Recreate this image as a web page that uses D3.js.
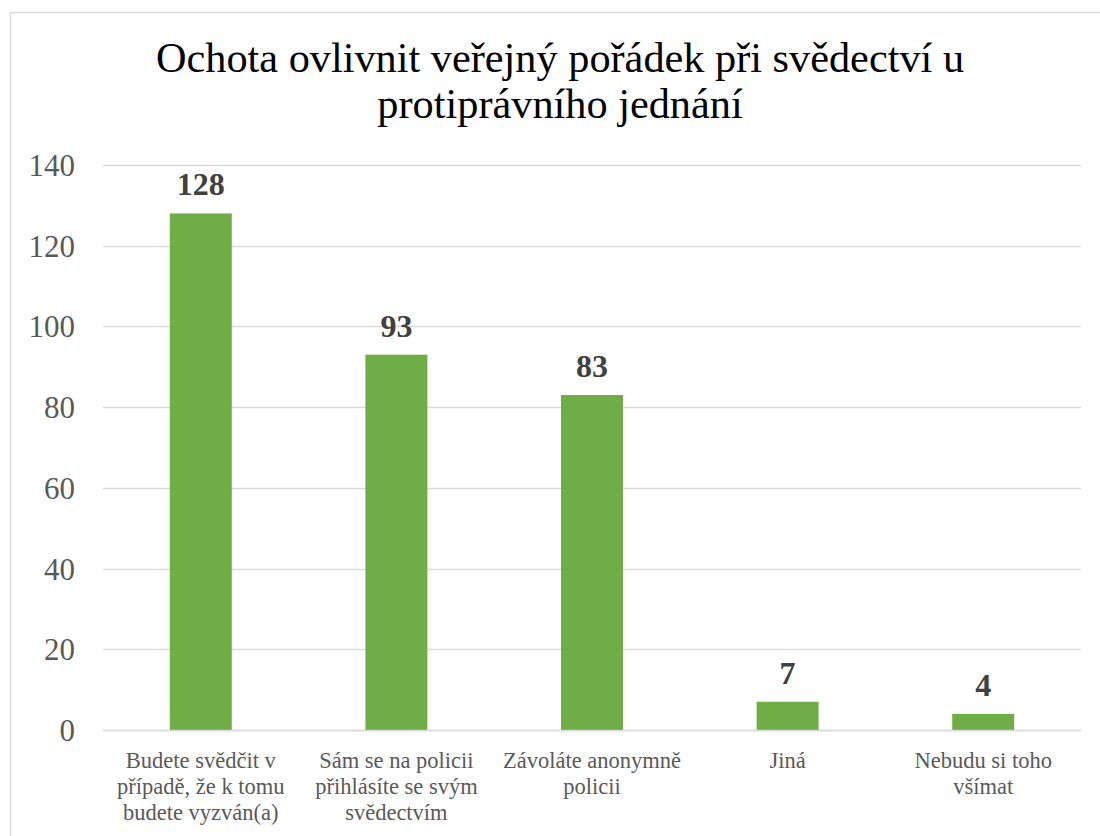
<!DOCTYPE html>
<html>
<head>
<meta charset="utf-8">
<script src="https://cdn.jsdelivr.net/npm/d3@7"></script>
<style>
  html, body { margin: 0; padding: 0; background: #ffffff; }
  svg { display: block; }
</style>
</head>
<body>
<svg id="chart" width="1100" height="836"></svg>
<script>
const titleLines = ["Ochota ovlivnit veřejný pořádek při svědectví u", "protiprávního jednání"];
const categories = [
  "Budete svědčit v\npřípadě, že k tomu\nbudete vyzván(a)",
  "Sám se na policii\npřihlásíte se svým\nsvědectvím",
  "Závoláte anonymně\npolicii",
  "Jiná",
  "Nebudu si toho\nvšímat"
];
const values = [128, 93, 83, 7, 4];
const yTicks = [0, 20, 40, 60, 80, 100, 120, 140];

const FONT = "Liberation Serif, serif";
const svg = d3.select("#chart");

// chart frame (extends past the window on right & bottom)
svg.append("rect")
  .attr("x", 10.5).attr("y", 12.5)
  .attr("width", 1200).attr("height", 1000)
  .attr("fill", "#ffffff").attr("stroke", "#d9d9d9").attr("stroke-width", 1.5);

const margin = { left: 103, right: 1081, top: 165, bottom: 730 };

const x = d3.scaleBand()
  .domain(d3.range(categories.length))
  .range([margin.left, margin.right])
  .paddingInner(0.683)
  .paddingOuter(0.3415);

const y = d3.scaleLinear().domain([0, 140]).range([margin.bottom, margin.top]);

// gridlines
svg.append("g").selectAll("line").data(yTicks).join("line")
  .attr("x1", margin.left).attr("x2", margin.right)
  .attr("y1", d => Math.round(y(d)) + 0.5).attr("y2", d => Math.round(y(d)) + 0.5)
  .attr("stroke", "#d9d9d9").attr("stroke-width", 1.5);

// y axis labels
const yAxis = d3.axisLeft(y).tickValues(yTicks).tickSize(0).tickPadding(0);
const yg = svg.append("g").attr("transform", "translate(75,0)").call(yAxis);
yg.select(".domain").remove();
yg.selectAll("text")
  .attr("font-family", FONT).attr("font-size", 31).attr("fill", "#595959")
  .attr("dy", "0.34em");

// bars
svg.append("g").selectAll("rect").data(values).join("rect")
  .attr("x", (d, i) => x(i))
  .attr("width", x.bandwidth())
  .attr("y", d => y(d))
  .attr("height", d => y(0) - y(d))
  .attr("fill", "#70ad47");

// baseline
svg.append("line")
  .attr("x1", margin.left).attr("x2", margin.right)
  .attr("y1", Math.round(y(0)) + 0.5).attr("y2", Math.round(y(0)) + 0.5)
  .attr("stroke", "#d9d9d9").attr("stroke-width", 1.5);

// data labels
svg.append("g").selectAll("text").data(values).join("text")
  .attr("x", (d, i) => x(i) + x.bandwidth() / 2)
  .attr("y", d => y(d) - 18)
  .attr("text-anchor", "middle")
  .attr("font-family", FONT).attr("font-size", 32).attr("font-weight", "bold")
  .attr("fill", "#404040")
  .text(d => d);

// category labels
const xg = svg.append("g").selectAll("text").data(categories).join("text")
  .attr("text-anchor", "middle")
  .attr("font-family", FONT).attr("font-size", 22.5).attr("fill", "#595959");
xg.each(function (d, i) {
  const t = d3.select(this);
  d.split("\n").forEach((line, k) => {
    t.append("tspan")
      .attr("x", x(i) + x.bandwidth() / 2)
      .attr("y", 768 + k * 26)
      .text(line);
  });
});

// title
svg.append("g").selectAll("text").data(titleLines).join("text")
  .attr("x", 560).attr("y", (d, i) => 72 + i * 46)
  .attr("text-anchor", "middle")
  .attr("font-family", FONT).attr("font-size", 42.3).attr("fill", "#000000")
  .text(d => d);
</script>
</body>
</html>
